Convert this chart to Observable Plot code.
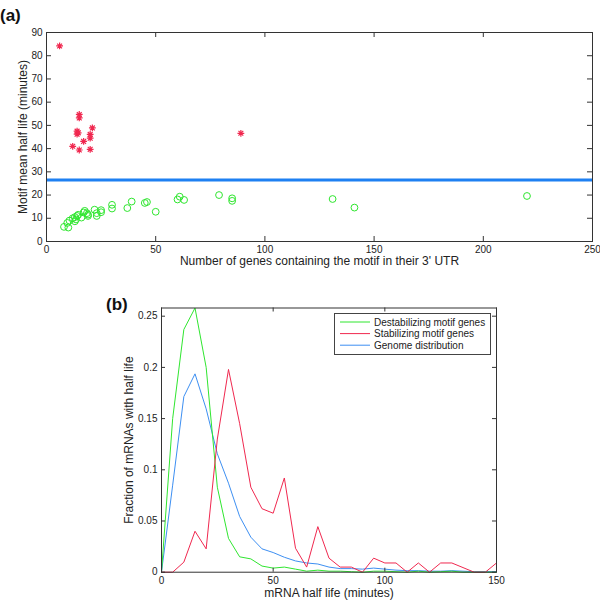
<!DOCTYPE html>
<html><head><meta charset="utf-8">
<script src="https://cdn.jsdelivr.net/npm/d3@7"></script>
<script src="https://cdn.jsdelivr.net/npm/@observablehq/plot@0.6"></script>
<style>
body{margin:0;background:#fff;}
#wrap{position:relative;width:600px;height:607px;overflow:hidden;background:#fff;font-family:"Liberation Sans",Arial,Helvetica,sans-serif;}
#wrap > svg{position:absolute;left:0;}
</style></head><body><div id="wrap"></div>
<script>
// ---------- Panel (a) data ----------
const destabCount = [8,9.5,10,10.5,12,13,13.5,13,14,14.5,16,17,17.5,18.5,19,19,22,23,23,25,25,30,30,37,39,45,46,50,60,61,63,79,85,85,131,141,220];
const destabHalfLife = [6.3,8,6,9,10,8.7,9.5,10.5,11,11.5,10.3,12.5,13.2,12.2,11,11.6,13.7,12.2,11,13.5,12.6,15.8,14.2,14.4,17.2,16.6,17,12.8,18.1,19.3,17.9,20,18.6,17.5,18.3,14.6,19.6];
const stabCount = [6,15,15,14,14,14.5,21,20,20,17,12,15,20,89];
const stabHalfLife = [84.2,54.7,53.2,47.5,46.2,46.8,48.9,46.1,44.5,43.1,41,39.4,39.7,46.6];
const genomeMeanHalfLife = 26.5;
const xTicksA = [0,50,100,150,200,250];
const yTicksA = [0,10,20,30,40,50,60,70,80,90];

// ---------- Panel (b) data ----------
const halfLifeBins = [0,5,10,15,20,25,30,35,40,45,50,55,60,65,70,75,80,85,90,95,100,105,110,115,120,125,130,135,140,145,150];
const destabFraction = [0,0.15,0.237,0.258,0.200,0.083,0.033,0.015,0.013,0.006,0.004,0.005,0.003,0.001,0.002,0.001,0.001,0.0005,0,0.001,0.001,0.0005,0,0.001,0,0.0005,0.001,0,0,0,0];
const stabFraction = [0,0,0.0098,0.040,0.0228,0.130,0.198,0.145,0.083,0.062,0.0576,0.092,0.0234,0.005,0.0445,0.0137,0.005,0.005,0,0.0137,0.009,0.009,0,0.009,0,0.009,0.009,0.0045,0,0,0.009];
const genomeFraction = [0,0.085,0.1715,0.1937,0.1595,0.1156,0.0869,0.0544,0.0342,0.0228,0.0192,0.0146,0.011,0.009,0.008,0.005,0.0035,0.0035,0.003,0.004,0.003,0.002,0.0015,0.0015,0.001,0.001,0.0015,0.001,0.0005,0.0005,0.0005];
const xTicksB = [0,50,100,150];
const yTicksB = [0,0.05,0.1,0.15,0.2,0.25];
const yTickLabelsB = ["0","0.05","0.1","0.15","0.2","0.25"];
const seriesNames = ["Destabilizing motif genes","Stabilizing motif genes","Genome distribution"];

const GREEN = "#2fe62f", RED = "#f0284f", BLUE = "#3d8ff2", BLUE_THICK = "#1e80f2", AXIS = "#333";
const FONT = "'Liberation Sans', Arial, Helvetica, sans-serif";

// 8-spoke asterisk (plus + cross), like the MATLAB '*' marker
const star8 = {
  draw(context, size) {
    const r = Math.sqrt(size / Math.PI), d = r * Math.SQRT1_2;
    context.moveTo(-r, 0); context.lineTo(r, 0);
    context.moveTo(0, -r); context.lineTo(0, r);
    context.moveTo(-d, -d); context.lineTo(d, d);
    context.moveTo(-d, d); context.lineTo(d, -d);
  }
};

const wrap = document.getElementById("wrap");

// ---------- Panel (a) ----------
const greenPts = destabCount.map((c,i)=>({count:c, hl:destabHalfLife[i]}));
const redPts = stabCount.map((c,i)=>({count:c, hl:stabHalfLife[i]}));
const A = {w:600, h:275, mt:32, mb:34, ml:46, mr:8};
const aPH = A.h - A.mt - A.mb, aPW = A.w - A.ml - A.mr;
const plotA = Plot.plot({
  width:A.w, height:A.h, marginTop:A.mt, marginBottom:A.mb, marginLeft:A.ml, marginRight:A.mr,
  style:{fontFamily:FONT, fontSize:"10px", color:"#222", background:"white", overflow:"visible"},
  x:{domain:[0,250]},
  y:{domain:[0,90]},
  marks:[
    Plot.ruleY([genomeMeanHalfLife], {stroke:BLUE_THICK, strokeWidth:3}),
    Plot.dot(greenPts, {x:"count", y:"hl", r:3.4, stroke:GREEN, strokeWidth:1, fill:"none"}),
    Plot.dot(redPts, {x:"count", y:"hl", symbol:star8, r:3.4, stroke:RED, strokeWidth:1.2, fill:"none"}),
    Plot.frame({stroke:AXIS, strokeWidth:1}),
    Plot.tickX(xTicksA, {x:d=>d, insetTop:aPH-5, stroke:AXIS}),
    Plot.tickX(xTicksA, {x:d=>d, insetBottom:aPH-5, stroke:AXIS}),
    Plot.tickY(yTicksA, {y:d=>d, insetRight:aPW-5, stroke:AXIS}),
    Plot.tickY(yTicksA, {y:d=>d, insetLeft:aPW-5, stroke:AXIS}),
    Plot.axisX(xTicksA, {tickSize:0, tickPadding:4, label:null}),
    Plot.axisY(yTicksA, {tickSize:0, tickPadding:4, label:null}),
    Plot.text(["Number of genes containing the motif in their 3' UTR"], {frameAnchor:"bottom", textAnchor:"middle", text:d=>d, lineAnchor:"top", dy:15, fontSize:12, fill:"#222"}),
    Plot.text(["Motif mean half life (minutes)"], {frameAnchor:"left", textAnchor:"middle", text:d=>d, rotate:-90, lineAnchor:"middle", dx:-23, fontSize:12, fill:"#222"})
  ]
});
plotA.style.top = "0px";
wrap.appendChild(plotA);

// ---------- Panel (b) ----------
const B = {w:600, h:327, mt:27.5, mb:35.3, ml:161, mr:104, top:280};
const bPH = B.h - B.mt - B.mb, bPW = B.w - B.ml - B.mr;
const mk = arr => halfLifeBins.map((b,i)=>({bin:b, f:arr[i]}));
const plotB = Plot.plot({
  width:B.w, height:B.h, marginTop:B.mt, marginBottom:B.mb, marginLeft:B.ml, marginRight:B.mr,
  style:{fontFamily:FONT, fontSize:"10px", color:"#222", background:"white", overflow:"visible"},
  x:{domain:[0,150]},
  y:{domain:[0,0.258]},
  marks:[
    Plot.line(mk(genomeFraction), {x:"bin", y:"f", stroke:BLUE, strokeWidth:1}),
    Plot.line(mk(destabFraction), {x:"bin", y:"f", stroke:GREEN, strokeWidth:1}),
    Plot.line(mk(stabFraction), {x:"bin", y:"f", stroke:RED, strokeWidth:1}),
    Plot.frame({stroke:AXIS, strokeWidth:1}),
    Plot.tickX(xTicksB, {x:d=>d, insetTop:bPH-4, stroke:AXIS}),
    Plot.tickX(xTicksB, {x:d=>d, insetBottom:bPH-4, stroke:AXIS}),
    Plot.tickY(yTicksB, {y:d=>d, insetRight:bPW-4, stroke:AXIS}),
    Plot.tickY(yTicksB, {y:d=>d, insetLeft:bPW-4, stroke:AXIS}),
    Plot.axisX(xTicksB, {tickSize:0, tickPadding:5, label:null}),
    Plot.axisY(yTicksB, {tickSize:0, tickPadding:4, label:null, tickFormat:(d)=>yTickLabelsB[yTicksB.indexOf(d)]}),
    Plot.text(["mRNA half life (minutes)"], {frameAnchor:"bottom", textAnchor:"middle", text:d=>d, lineAnchor:"top", dy:16, fontSize:12, fill:"#222"}),
    Plot.text(["Fraction of mRNAs with half life"], {frameAnchor:"left", textAnchor:"middle", text:d=>d, rotate:-90, lineAnchor:"middle", dx:-32, fontSize:12, fill:"#222"})
  ]
});
plotB.style.top = B.top + "px";
wrap.appendChild(plotB);

// ---------- Legend & panel labels overlay ----------
const ov = d3.select(wrap).append("svg")
  .attr("width",600).attr("height",607)
  .style("top","0px").style("pointer-events","none")
  .style("font-family",FONT);
ov.append("text").attr("x",0).attr("y",20.5).attr("font-size",17).attr("font-weight","bold").attr("fill","#111").text("(a)");
ov.append("text").attr("x",106).attr("y",310).attr("font-size",17).attr("font-weight","bold").attr("fill","#111").text("(b)");
const lg = ov.append("g").attr("transform","translate(334,313)");
lg.append("rect").attr("x",0.5).attr("y",0.5).attr("width",156).attr("height",41).attr("fill","white").attr("stroke","#444");
const legColors = [GREEN, RED, BLUE];
seriesNames.forEach((name,i)=>{
  const y = 9 + i*11.6;
  lg.append("line").attr("x1",6).attr("x2",36).attr("y1",y).attr("y2",y).attr("stroke",legColors[i]).attr("stroke-width",1);
  lg.append("text").attr("x",40).attr("y",y).attr("dy","0.35em").attr("font-size",10).attr("fill","#222").text(name);
});
</script>
</body></html>
